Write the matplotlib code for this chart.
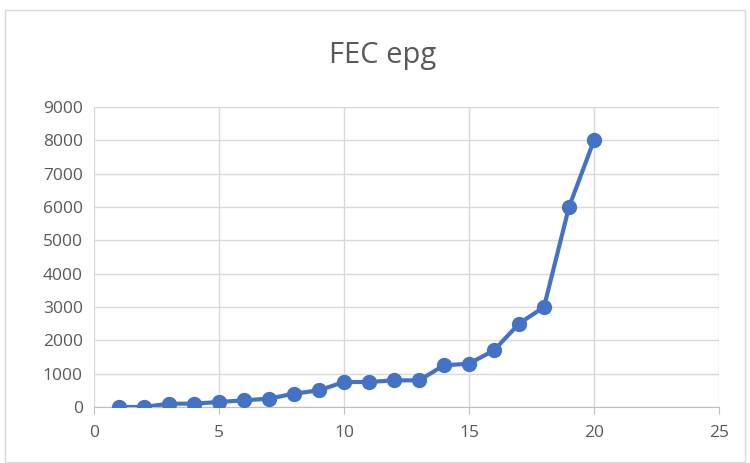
import matplotlib.pyplot as plt
from matplotlib.patches import Rectangle

# data
days = list(range(1, 21))
fec = [0, 0, 100, 100, 150, 200, 250, 400, 500, 750,
       750, 800, 800, 1250, 1300, 1700, 2500, 3000, 6000, 8000]

plt.rcParams['font.family'] = ['Open Sans', 'DejaVu Sans']

fig = plt.figure(figsize=(7.5, 4.63), dpi=100)
ax = fig.add_axes([94/750, 56/463, 625/750, 300/463])

ax.plot(days, fec, color='#4472C4', lw=3, marker='o', ms=10, zorder=3)

ax.set_xlim(0, 25)
ax.set_ylim(0, 9000)
ax.set_xticks(range(0, 26, 5))
ax.set_yticks(range(0, 9001, 1000))
ax.grid(True, color='#D9D9D9', lw=1)
ax.set_axisbelow(True)
for s in ['top', 'right', 'left']:
    ax.spines[s].set_visible(False)
ax.spines['bottom'].set_color('#BFBFBF')
ax.tick_params(axis='both', length=0, labelsize=12.5, colors='#595959', pad=8)
ax.tick_params(axis='x', length=5, color='#BFBFBF', direction='out')

fig.text(0.51, 0.88, 'FEC epg', ha='center', va='center', fontsize=21, color='#595959')

# chart border
fig.patches.append(Rectangle((5/750, 0.002), 740/750, 0.976,
                             transform=fig.transFigure, fill=False,
                             edgecolor='#D9D9D9', lw=1))

fig.savefig('out.png', dpi=100)
